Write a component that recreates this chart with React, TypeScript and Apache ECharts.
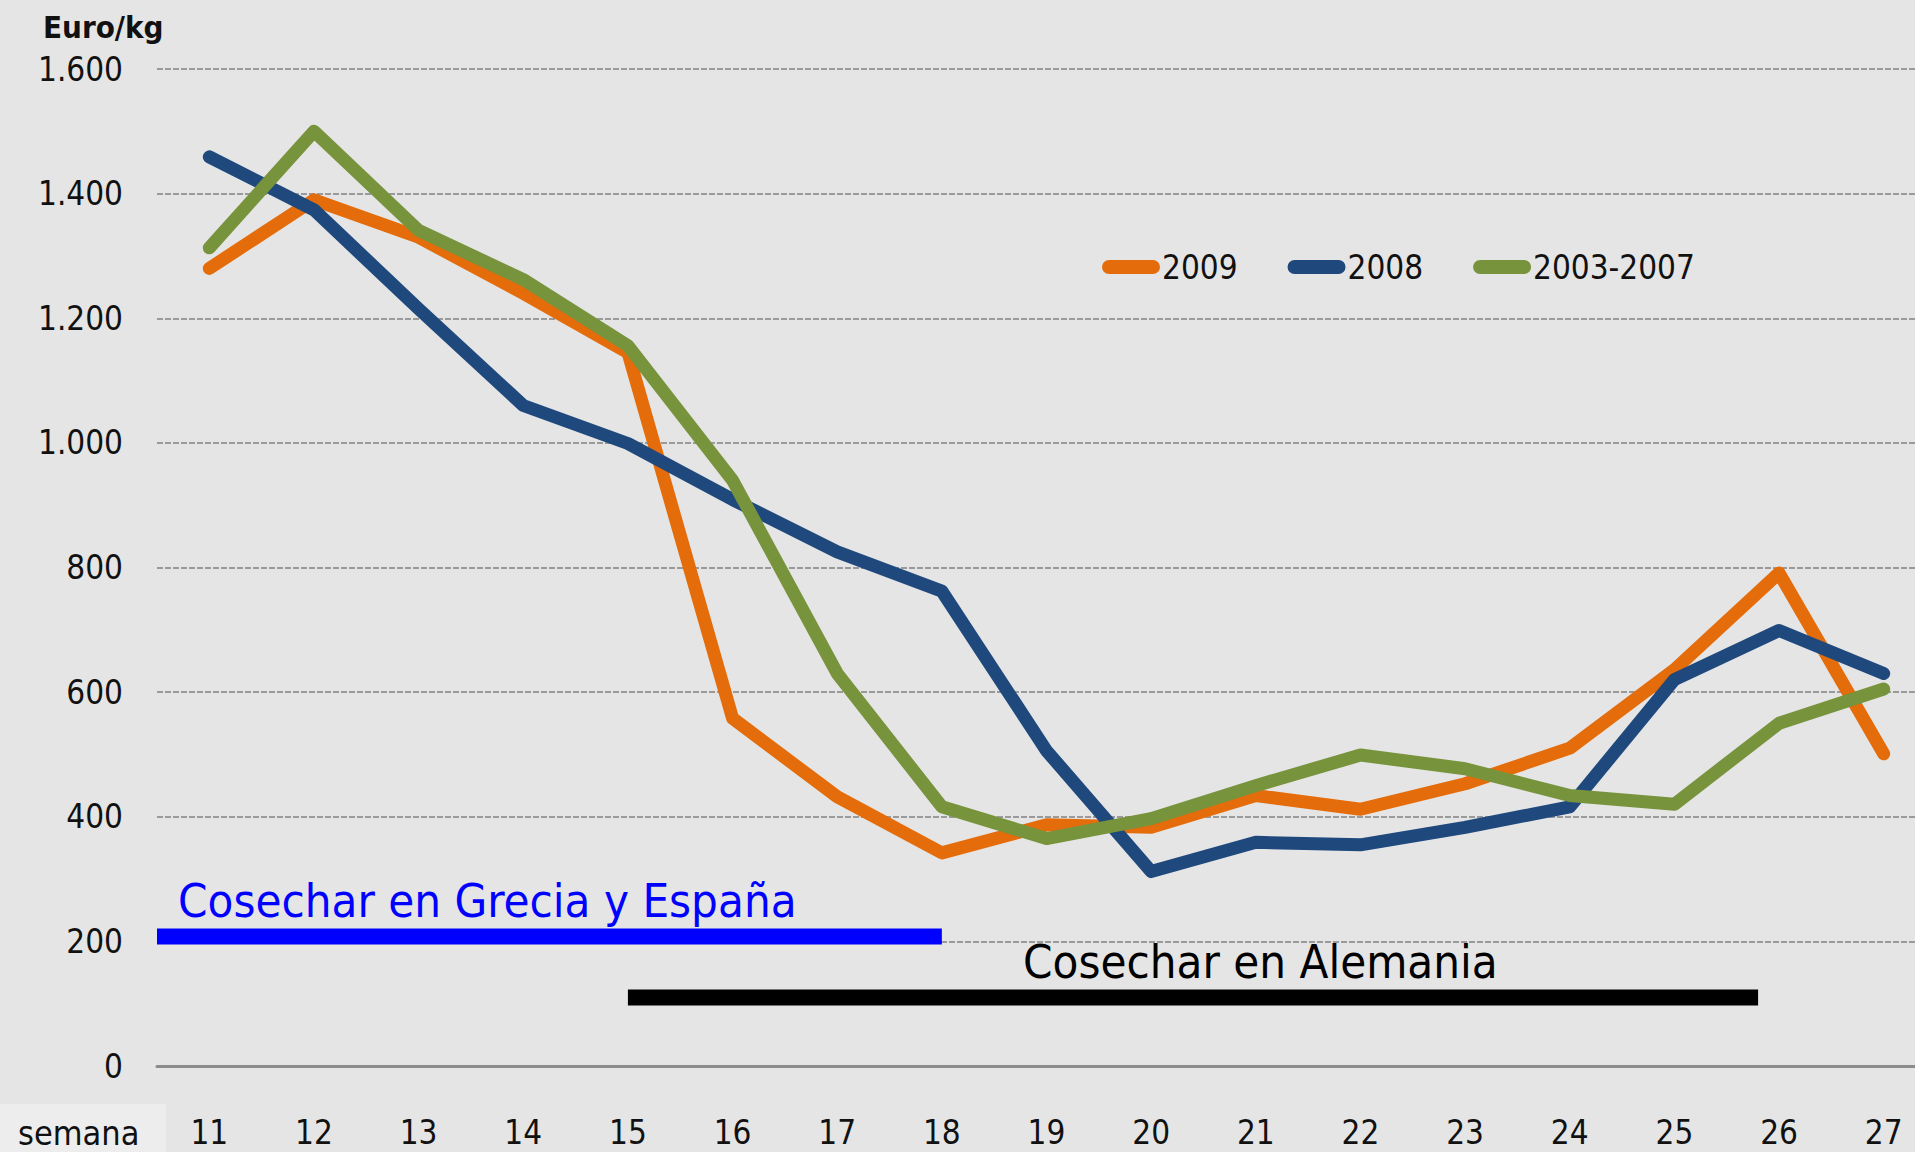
import React, { useEffect, useRef } from "react";
import * as echarts from "echarts";

const weeks = ["11", "12", "13", "14", "15", "16", "17", "18", "19", "20", "21", "22", "23", "24", "25", "26", "27"];
const s2009 = [1280, 1390, 1330, 1240, 1145, 558, 432, 342, 387, 383, 434, 412, 453, 510, 636, 791, 501];
const s2008 = [1459, 1374, 1215, 1060, 999, 909, 825, 762, 506, 312, 359, 355, 383, 416, 620, 699, 630];
const s0307 = [1313, 1500, 1341, 1262, 1156, 940, 630, 416, 365, 397, 450, 499, 477, 434, 420, 550, 605];
const seriesNames = ["2009", "2008", "2003-2007"];
const seriesColors = ["#e46c0a", "#1f497d", "#77933c"];

// harvest bands: [start week, end week] at a y level
const greciaBandX = [10.5, 18];
const greciaBandY = 208;
const alemaniaBandX = [15, 25.8];
const alemaniaBandY = 110;

const FONT = '"DejaVu Sans Condensed", "Liberation Sans Narrow", "DejaVu Sans", sans-serif';

function fmt(v: number) {
  return String(v).replace(/\B(?=(\d{3})+(?!\d))/g, ".");
}

export default function App() {
  const ref = useRef<HTMLDivElement>(null);
  useEffect(() => {
    const chart = echarts.init(ref.current!, null, { renderer: "svg" });
    const lineSeries = [s2009, s2008, s0307].map((d, i) => ({
      name: seriesNames[i],
      type: "line",
      data: d,
      symbol: "none",
      xAxisIndex: 0,
      yAxisIndex: 0,
      lineStyle: { width: 13, color: seriesColors[i], cap: "round", join: "round" },
      itemStyle: { color: seriesColors[i] },
      z: 3 + i,
    }));
    chart.setOption({
      animation: false,
      backgroundColor: "#e5e5e5",
      grid: { left: 157, right: 0, top: 69, bottom: 86 },
      legend: {
        data: seriesNames,
        left: 1097,
        top: 245,
        icon: "path://M7,0 H51 A7,7 0 0 1 51,14 H7 A7,7 0 0 1 7,0 Z",
        itemWidth: 58,
        itemHeight: 15,
        itemGap: 50,
        textStyle: { fontFamily: FONT, fontSize: 33, color: "#111", lineHeight: 34, padding: [0, 0, 0, -3] },
      },
      xAxis: [
        {
          type: "category",
          data: weeks,
          boundaryGap: true,
          axisLine: { show: true, lineStyle: { color: "#8c8c8c", width: 3 } },
          axisTick: { show: false },
          axisLabel: { fontFamily: FONT, fontSize: 33, color: "#111", margin: 50, lineHeight: 33 },
          splitLine: { show: false },
        },
        {
          type: "value",
          min: 10.5,
          max: 27.5,
          show: false,
          splitLine: { show: false },
        },
      ],
      yAxis: {
        type: "value",
        min: 0,
        max: 1600,
        interval: 200,
        axisLine: { show: false },
        axisTick: { show: false },
        axisLabel: { fontFamily: FONT, fontSize: 33, color: "#111", margin: 34, formatter: (v: number) => fmt(v) },
        splitLine: { show: true, lineStyle: { color: "#9a9a9a", width: 2, type: [6, 2] } },
      },
      series: [
        ...lineSeries,
        {
          name: "grecia",
          type: "line",
          xAxisIndex: 1,
          yAxisIndex: 0,
          symbol: "none",
          silent: true,
          data: greciaBandX.map((x) => [x, greciaBandY]),
          lineStyle: { width: 16, color: "#0000ff", cap: "butt" },
          z: 2,
        },
        {
          name: "alemania",
          type: "line",
          xAxisIndex: 1,
          yAxisIndex: 0,
          symbol: "none",
          silent: true,
          data: alemaniaBandX.map((x) => [x, alemaniaBandY]),
          lineStyle: { width: 16, color: "#000000", cap: "butt" },
          z: 2,
        },
      ],
      graphic: [
        {
          type: "rect",
          left: 0,
          top: 1104,
          shape: { width: 166, height: 48 },
          style: { fill: "#ededed" },
          z: 0,
        },
        {
          type: "text",
          x: 18,
          y: 1133,
          style: { text: "semana", font: `34px ${FONT}`, fill: "#111", textVerticalAlign: "middle" },
          z: 10,
        },
        {
          type: "text",
          x: 43,
          y: 27,
          style: { text: "Euro/kg", font: `bold 31px ${FONT}`, fill: "#111", textVerticalAlign: "middle" },
          z: 10,
        },
        {
          type: "text",
          x: 178,
          y: 900,
          style: { text: "Cosechar en Grecia y España", font: `47px ${FONT}`, fill: "#0000ff", textVerticalAlign: "middle" },
          z: 10,
        },
        {
          type: "text",
          x: 1023,
          y: 961,
          style: { text: "Cosechar en Alemania", font: `47px ${FONT}`, fill: "#000000", textVerticalAlign: "middle" },
          z: 10,
        },
      ],
    });
    return () => chart.dispose();
  }, []);
  return (
    <div style={{ position: "fixed", left: 0, top: 0, width: 1915, height: 1152, overflow: "hidden" }}>
      <div ref={ref} style={{ width: 1936, height: 1152 }} />
    </div>
  );
}
